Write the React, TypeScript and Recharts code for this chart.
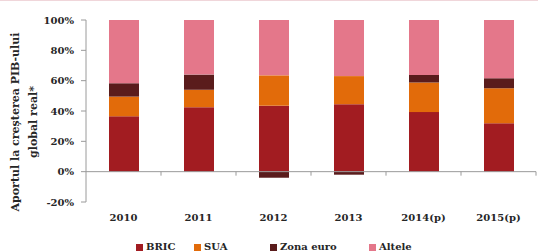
import React from "react";
import { BarChart, Bar, XAxis, YAxis, ReferenceLine, Legend } from "recharts";

const years = ["2010", "2011", "2012", "2013", "2014(p)", "2015(p)"];
const bric = [36.5, 42.5, 43.5, 44.5, 39.3, 32];
const sua = [13, 11.5, 20, 18.5, 19.5, 23];
const zonaEuro = [8.8, 10, -4, -2, 5, 6.6];
const altele = [41.7, 36, 36.5, 37, 36.2, 38.4];
const yTicks = [-20, 0, 20, 40, 60, 80, 100];

const series = [
  { key: "BRIC", values: bric, color: "#A21C21" },
  { key: "SUA", values: sua, color: "#E26B0A" },
  { key: "Zona euro", values: zonaEuro, color: "#5A1C1C" },
  { key: "Altele", values: altele, color: "#E4778A" },
];

const data = years.map((y, i) => {
  const row: any = { year: y };
  series.forEach((s) => (row[s.key] = s.values[i]));
  return row;
});

const FONT = "'DejaVu Serif', serif";
const TEXT = "#262626";
const AXIS = "#9a9a9a";

// zero line plus the little category-boundary ticks under it
function ZeroLine(props: any) {
  const { x1, x2, y1 } = props;
  const n = years.length;
  const step = (x2 - x1) / n;
  return (
    <g>
      <line x1={x1} x2={x2} y1={y1} y2={y1} stroke={AXIS} strokeWidth={1} />
      {years.map((_, i) => (
        <line
          key={i}
          x1={x1 + (i + 1) * step}
          x2={x1 + (i + 1) * step}
          y1={y1}
          y2={y1 + 4}
          stroke={AXIS}
        />
      ))}
    </g>
  );
}

const legendWidths = [58, 76, 99, 60];

function LegendBox() {
  return (
    <div
      style={{
        display: "flex",
        paddingLeft: 136,
        paddingTop: 10,
        fontFamily: FONT,
        fontWeight: "bold",
        fontSize: 10,
        color: TEXT,
        lineHeight: "10px",
      }}
    >
      {series.map((s, i) => (
        <div key={s.key} style={{ display: "flex", alignItems: "center", width: legendWidths[i] }}>
          <span style={{ width: 7, height: 7, background: s.color, marginRight: 3, display: "inline-block" }} />
          <span>{s.key}</span>
        </div>
      ))}
    </div>
  );
}

function YLabel() {
  return (
    <text
      transform="translate(24,121) rotate(-90)"
      textAnchor="middle"
      fontFamily={FONT}
      fontWeight="bold"
      fontSize={11}
      fill={TEXT}
    >
      <tspan x={0} dy={-5}>Aportul la creșterea PIB-ului</tspan>
      <tspan x={0} dy={18}>global real*</tspan>
    </text>
  );
}

export default function App() {
  return (
    <div
      style={{
        position: "absolute",
        left: 0,
        top: 0,
        width: 538,
        height: 252,
        background: "#fff",
        borderTop: "1px solid #f0d6da",
        boxSizing: "border-box",
      }}
    >
      <BarChart
        width={538}
        height={251}
        data={data}
        stackOffset="sign"
        barSize={30}
        margin={{ top: 19, right: 2, left: 0, bottom: 0 }}
      >
        <YAxis
          width={86}
          domain={[-20, 100]}
          ticks={yTicks}
          interval={0}
          tickFormatter={(v) => `${v}%`}
          axisLine={{ stroke: AXIS }}
          tickLine={{ stroke: AXIS }}
          tickSize={5}
          tickMargin={7}
          tick={{ fontFamily: FONT, fontWeight: "bold", fontSize: 10, fill: TEXT }}
          label={<YLabel />}
        />
        <XAxis
          dataKey="year"
          height={30}
          axisLine={false}
          tickLine={false}
          tickSize={0}
          tickMargin={12}
          interval={0}
          tick={{ fontFamily: FONT, fontWeight: "bold", fontSize: 10, fill: TEXT }}
        />
        {series.map((s) => (
          <Bar key={s.key} dataKey={s.key} stackId="a" fill={s.color} isAnimationActive={false} />
        ))}
        <ReferenceLine y={0} shape={<ZeroLine />} />
        <Legend
          verticalAlign="bottom"
          height={20}
          content={<LegendBox />}
          wrapperStyle={{ left: 0, width: 538 }}
        />
      </BarChart>
    </div>
  );
}
